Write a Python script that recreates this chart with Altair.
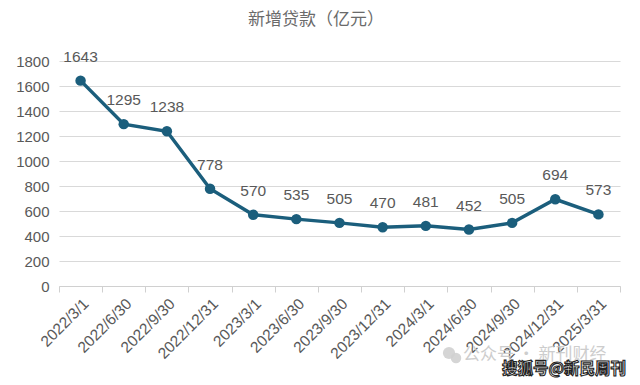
import altair as alt
import pandas as pd

dates = ["2022/3/1", "2022/6/30", "2022/9/30", "2022/12/31", "2023/3/1", "2023/6/30",
         "2023/9/30", "2023/12/31", "2024/3/1", "2024/6/30", "2024/9/30", "2024/12/31", "2025/3/31"]
values = [1643, 1295, 1238, 778, 570, 535, 505, 470, 481, 452, 505, 694, 573]

df = pd.DataFrame({"date": dates, "value": values})

LINE = "#1b5e7c"
GRAY = "#595959"
FONT = "Liberation Sans"

x = alt.X("date:N", sort=None, bandPosition=0.5,
          scale=alt.Scale(type="band", paddingInner=0, paddingOuter=0),
          axis=alt.Axis(title=None, labelAngle=-45, labelFontSize=15.5, labelColor=GRAY,
                        labelFont=FONT, domainColor="#d0d0d0", tickColor="#d0d0d0",
                        tickBand="extent", tickSize=6, labelPadding=4, grid=False))
y = alt.Y("value:Q", scale=alt.Scale(domain=[0, 1800]),
          axis=alt.Axis(title=None, values=list(range(0, 1801, 200)), format="d",
                        labelFontSize=15, labelColor=GRAY, labelFont=FONT, domain=False,
                        ticks=False, labelPadding=10, gridColor="#d9d9d9", gridWidth=1))

base = alt.Chart(df)
line = base.mark_line(color=LINE, strokeWidth=3.5).encode(x=x, y=y)
pts = base.mark_point(color=LINE, filled=True, opacity=1, size=110).encode(x=x, y=y)
labels = base.mark_text(dy=-24, fontSize=15.5, color=GRAY, font=FONT).encode(
    x=x, y=y, text="value:Q")

title = alt.Chart(pd.DataFrame({"t": ["新增贷款（亿元）"]})).mark_text(
    fontSize=17, color="#6a6a6a", font="Noto Sans CJK SC", baseline="middle"
).encode(x=alt.value(257), y=alt.value(-41), text="t:N")

icon = alt.Chart(pd.DataFrame({"px": [390, 397], "py": [292, 297], "s": [150, 110]})).mark_point(
    filled=True, color="#d0d0d0", opacity=0.9, shape="circle"
).encode(x=alt.X("px:Q", scale=None), y=alt.Y("py:Q", scale=None),
         size=alt.Size("s:Q", scale=None, legend=None))

wm1 = alt.Chart(pd.DataFrame({"t": ["公众号 · 新刊财经"]})).mark_text(
    fontSize=17, color="#c8c8c8", font="Noto Sans CJK SC", align="left", baseline="middle", opacity=0.9
).encode(x=alt.value(404), y=alt.value(294), text="t:N")
wm2 = alt.Chart(pd.DataFrame({"t": ["搜狐号@新民周刊"]})).mark_text(
    fontSize=15.5, color="white", stroke="#222222", strokeWidth=1.1, fontWeight="bold",
    font="Noto Sans CJK SC", align="left", baseline="middle"
).encode(x=alt.value(443), y=alt.value(308), text="t:N")

chart = alt.layer(line, pts, labels, title, icon, wm1, wm2).properties(
    width=561, height=225,
    autosize=alt.AutoSizeParams(type="none"),
    padding={"left": 51, "top": 53, "right": 12, "bottom": 98},
).configure_view(stroke=None)

chart.save("out.html", embed_options={"renderer": "svg", "actions": False})
